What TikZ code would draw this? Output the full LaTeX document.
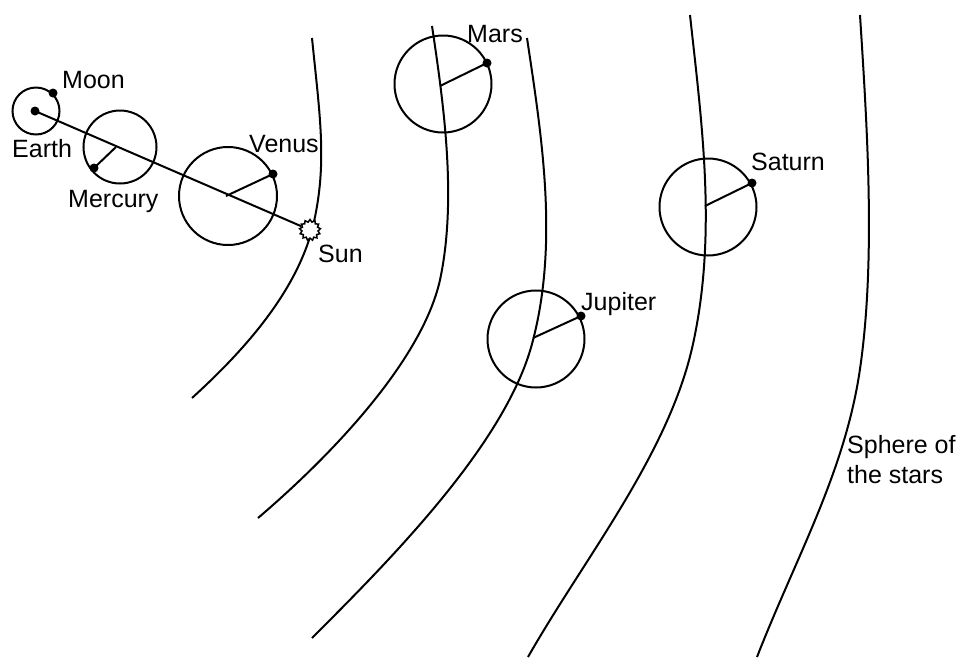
\documentclass[tikz,border=0pt]{standalone}
\usepackage{fontspec}
\setmainfont{Liberation Sans}
\usetikzlibrary{shapes.geometric}
\begin{document}
\begin{tikzpicture}[x=1pt,y=-1pt,
  lw/.style={line width=2pt},
  epi/.style={circle,draw,line width=2pt,inner sep=0pt},
  pdot/.style={circle,fill=black,inner sep=0pt,minimum size=9pt},
  lbl/.style={inner sep=0pt,anchor=base west,font=\fontsize{25}{30}\selectfont},
  sphere/.style={line width=2pt}]
\useasboundingbox (0,0) rectangle (962,657);
% spheres
\draw[sphere] (312,38) .. controls (320,118) and (328,166) .. (312,230)
  .. controls (295,292) and (247,348) .. (192,398);
\draw[sphere] (432,26) .. controls (444,106) and (457,200) .. (440,280)
  .. controls (422,360) and (333,454) .. (258,518);
\draw[sphere] (527,38) .. controls (542,138) and (559,244) .. (532,344)
  .. controls (505,444) and (392,558) .. (312,638);
\draw[sphere] (690,15) .. controls (702,125) and (717,234) .. (693,344)
  .. controls (669,454) and (585,557) .. (528,657);
\draw[sphere] (860,15) .. controls (867,125) and (876,259) .. (860,369)
  .. controls (845,472) and (796,557) .. (757,657);
% Earth and Moon
\node[epi,minimum size=47pt] (earthepi) at (36,111) {};
\node[pdot] (earth) at (35,111) {};
\node[pdot] (moon) at (53,93) {};
% Sun
\node[star,star points=13,star point ratio=1.3,draw,line width=1.5pt,minimum size=21pt,inner sep=0pt,fill=white] (sun) at (310,230) {};
\draw[lw] (earth.center) -- (sun);
% Mercury
\coordinate (mercc) at (116,147);
\node[epi,minimum size=73pt] (mercepi) at (120,147) {};
\node[pdot] (mercury) at (94,168) {};
\draw[lw] (mercc) -- (mercury.center);
% Venus
\coordinate (venc) at (226,196);
\node[epi,minimum size=98pt] (venepi) at (228,196) {};
\node[pdot] (venus) at (273,174) {};
\draw[lw] (venc) -- (venus.center);
% Mars
\coordinate (marsc) at (440,86);
\node[epi,minimum size=97pt] (marsepi) at (443,84) {};
\node[pdot] (mars) at (487,63) {};
\draw[lw] (marsc) -- (mars.center);
% Jupiter
\coordinate (jupc) at (533,338);
\node[epi,minimum size=97pt] (jupepi) at (536,339) {};
\node[pdot] (jupiter) at (581,316) {};
\draw[lw] (jupc) -- (jupiter.center);
% Saturn
\coordinate (satc) at (705,206);
\node[epi,minimum size=97pt] (satepi) at (708,207) {};
\node[pdot] (saturn) at (752,183) {};
\draw[lw] (satc) -- (saturn.center);
% labels
\node[lbl] (moonlbl) at (62,88) {Moon};
\node[lbl] (earthlbl) at (12,157) {Earth};
\node[lbl] (merclbl) at (68,207) {Mercury};
\node[lbl] (venlbl) at (249,152) {Venus};
\node[lbl] (sunlbl) at (318,262) {Sun};
\node[lbl] (marslbl) at (467,42) {Mars};
\node[lbl] (juplbl) at (581,310) {Jupiter};
\node[lbl] (satlbl) at (751,170) {Saturn};
\node[lbl] (stars1) at (847,453) {Sphere of};
\node[lbl] (stars2) at (847,483) {the stars};
\end{tikzpicture}
\end{document}
